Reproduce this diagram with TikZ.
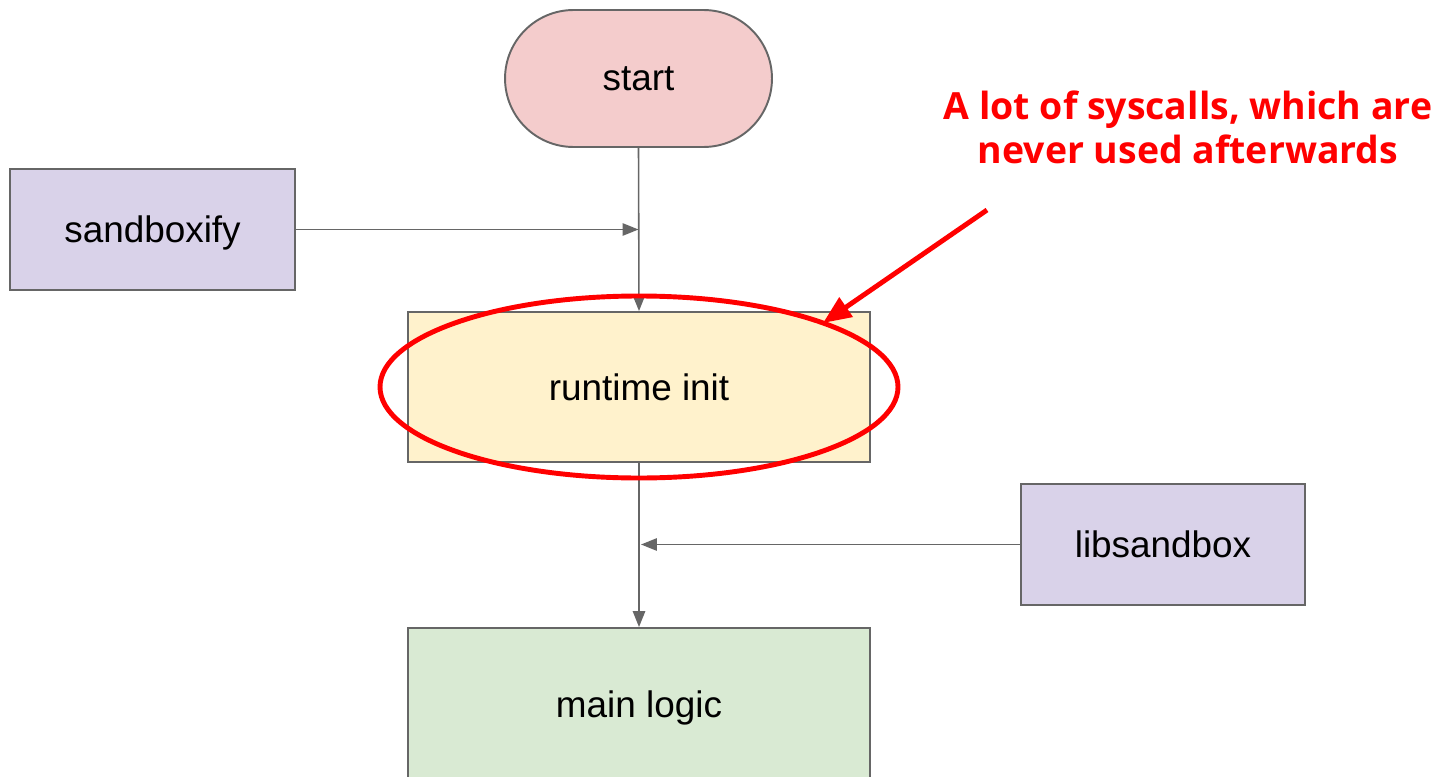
\documentclass[tikz,border=0pt]{standalone}
\usepackage{fontspec}
\setmainfont{Liberation Sans}
\newfontfamily\notefont{Open Sans}
\usetikzlibrary{shapes,arrows.meta,positioning,calc}

\definecolor{edgegrey}{HTML}{666666}
\definecolor{startfill}{HTML}{F4CCCC}
\definecolor{stepfill}{HTML}{FFF2CC}
\definecolor{libfill}{HTML}{D9D2E9}
\definecolor{logicfill}{HTML}{D9EAD3}
\definecolor{notered}{HTML}{FF0000}

\tikzset{
  block/.style={draw=edgegrey, line width=1.1pt, rectangle, font=\fontsize{21}{25}\selectfont, inner sep=0pt, text depth=0pt},
  flow/.style={draw=edgegrey, line width=0.9pt, -{Triangle[length=9pt,width=7pt]}},
  note/.style={draw=notered, line width=2.8pt}
}

\begin{document}
\begin{tikzpicture}[x=0.02cm,y=-0.02cm]
\useasboundingbox (0,0) rectangle (1436,777);
\begin{scope}
\clip (0,0) rectangle (1436,777);
\node[block, shape=rounded rectangle, fill=startfill, minimum width=5.34cm, minimum height=2.74cm] (start) at (638.5,78.5) {start};
\node[block, fill=libfill, minimum width=5.7cm, minimum height=2.42cm] (sandboxify) at (152.5,229.5) {sandboxify};
\node[block, fill=stepfill, minimum width=9.24cm, minimum height=3cm] (init) at (639,387) {runtime init};
\node[block, fill=libfill, minimum width=5.68cm, minimum height=2.42cm] (libsandbox) at (1163,544.5) {libsandbox};
\node[block, fill=logicfill, minimum width=9.24cm, minimum height=3.04cm] (logic) at (639,704) {main logic};
\end{scope}

% connectors
\draw[flow] (start.south) -- (init.north);
\draw[flow] (sandboxify.east) -- (sandboxify.east -| start.south);
\draw[flow] (init.south) -- (logic.north);
\draw[flow] (libsandbox.west) -- ($(libsandbox.west -| init.south)+(2,0)$);

% annotation
\draw[note] (init.center) ellipse [x radius=259, y radius=91];
\node[text=notered, align=center, font=\notefont\bfseries\fontsize{21.3}{25}\selectfont] (remark) at (1188,127) {A lot of syscalls, which are\\never used afterwards};
\coordinate (tail) at (987,210);
\coordinate (tip) at (823,323);
\draw[note, -{Triangle[length=16pt,width=13pt]}] (tail) -- (tip);
\end{tikzpicture}
\end{document}
